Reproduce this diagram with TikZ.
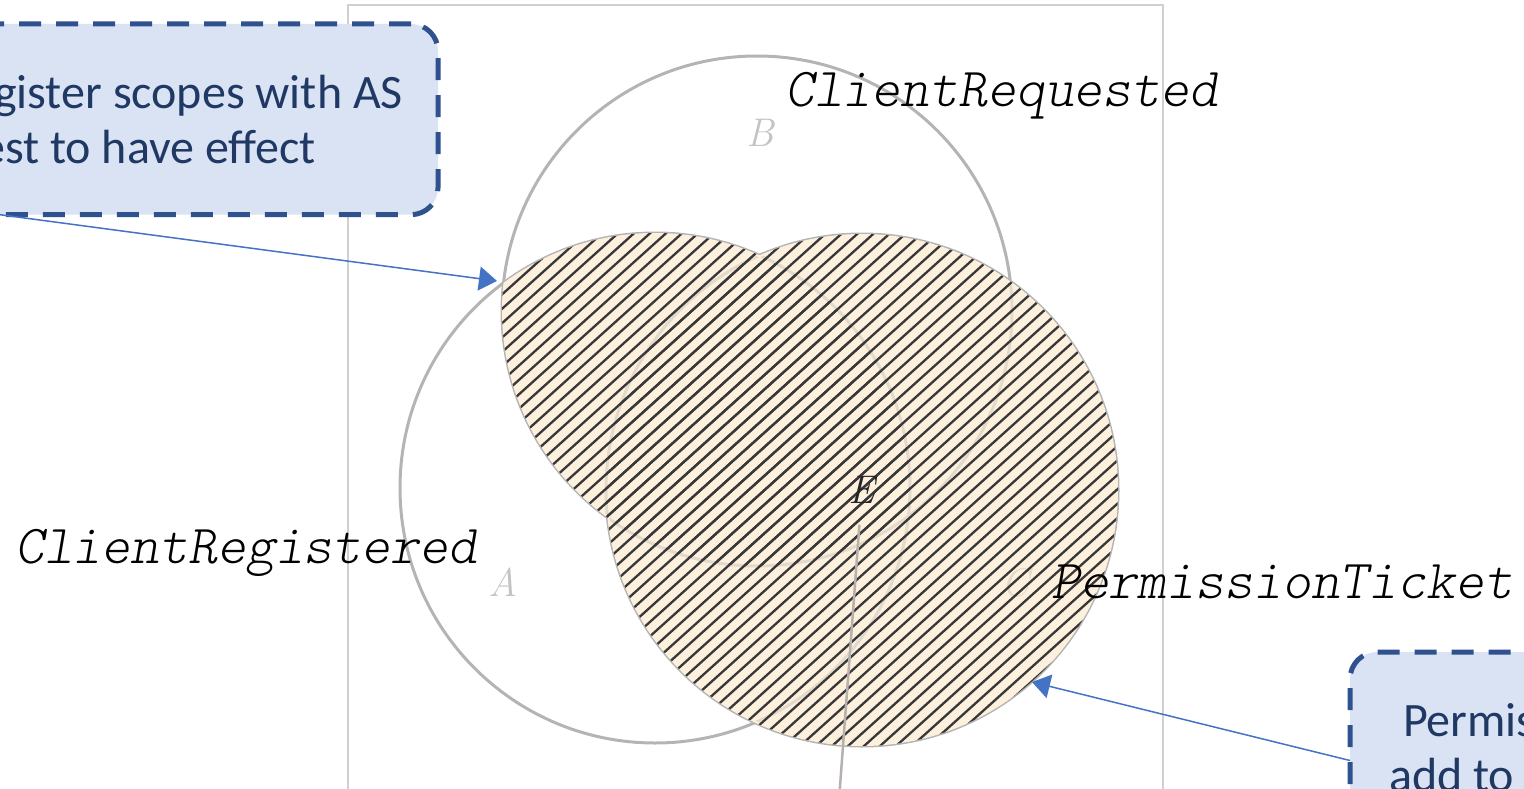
\documentclass[tikz,border=0pt]{standalone}
\usepackage{fontspec}
\usepackage{xcolor}
\usetikzlibrary{arrows.meta, calc}
\newfontfamily\calloutfont{Carlito}
\newfontfamily\codefont{lmmonolt10-oblique.otf}
\definecolor{vnGray}{RGB}{180, 180, 180}
\definecolor{vnFaint}{RGB}{226, 218, 205}
\definecolor{vnFrame}{RGB}{208, 208, 208}
\definecolor{vnTint}{RGB}{253, 241, 222}
\definecolor{vnLetter}{RGB}{196, 196, 196}
\definecolor{vnStem}{RGB}{182, 177, 172}
\definecolor{coBorder}{RGB}{47, 82, 143}
\definecolor{coFill}{RGB}{218, 227, 243}
\definecolor{coText}{RGB}{31, 56, 100}
\definecolor{coArrow}{RGB}{68, 114, 196}
\tikzset{
    setline/.style={
        draw=vnGray,
        line width=3pt
    },
    faintline/.style={
        draw=vnFaint,
        line width=3pt
    },
    hatchline/.style={
        draw=black!78,
        line width=2.3pt
    },
    letter/.style={
        font=\fontsize{40}{48}\selectfont\itshape,
        text=vnLetter,
        inner sep=0pt
    },
    setname/.style={
        font=\codefont\fontsize{55}{66}\selectfont,
        inner sep=0pt,
        anchor=base west
    },
    callout/.style={
        rectangle,
        rounded corners=27pt,
        draw=coBorder,
        line width=5pt,
        dash pattern=on 22pt off 15pt,
        fill=coFill,
        text=coText,
        font=\calloutfont\fontsize{48}{55}\selectfont,
        align=left,
        outer sep=0pt
    },
    pointer/.style={
        draw=coArrow,
        line width=1.5pt,
        -{Triangle[length=18pt, width=24pt]}
    },
    stem/.style={
        draw=vnStem,
        line width=2.5pt
    }
}
\newcommand{\hatchlines}{%
  \foreach \hx in {-220,-204,...,1140}
    \draw[hatchline] (\hx,800) -- +(667,-600);
}
\newcommand{\circleset}[1]{%
  \draw[#1] (A) circle[radius=255pt];
  \draw[#1] (B) circle[radius=255pt];
  \draw[#1] (C) circle[radius=256pt];
}

\begin{document}
\begin{tikzpicture}[x=1pt, y=-1pt]
  \useasboundingbox (0,0) rectangle (1524,789);
  \clip (0,0) rectangle (1524,789);

  % Frame
  \draw[vnFrame, line width=1.2pt] (348,5) rectangle (1163,820);

  % Sets
  \coordinate (A) at (655,488);
  \coordinate (B) at (757,311);
  \coordinate (C) at (862,490);
  \circleset{setline}

  % Shaded part: C, and A with B
  \begin{scope}
    \clip (C) circle[radius=256pt];
    \fill[vnTint] (300,0) rectangle (1200,800);
  \end{scope}
  \begin{scope}
    \clip (A) circle[radius=255pt];
    \clip (B) circle[radius=255pt];
    \fill[vnTint] (300,0) rectangle (1200,800);
  \end{scope}
  \begin{scope}
    \clip (C) circle[radius=254pt];
    \circleset{faintline}
  \end{scope}
  \begin{scope}
    \clip (A) circle[radius=253pt];
    \clip (B) circle[radius=253pt];
    \circleset{faintline}
  \end{scope}
  \node[letter, text=vnFaint] (labC) at (1015,583) {C};
  \begin{scope}
    \clip (C) circle[radius=256pt];
    \hatchlines
  \end{scope}
  \begin{scope}
    \clip (A) circle[radius=255pt];
    \clip (B) circle[radius=255pt];
    \hatchlines
  \end{scope}

  % Letters
  \node[letter] (labA) at (503,582) {A};
  \node[letter] (labB) at (760,133) {B};
  \node[letter, text=black!85] (E) at (862,490) {E};
  \coordinate (stemEnd) at (839,800);
  \draw[stem, shorten <=21pt] (E) -- (stemEnd);

  % Set names
  \node[setname] (reqName) at (785,107) {ClientRequested};
  \node[setname] (regName) at (15,563) {ClientRegistered};
  \node[setname] (ticketName) at (1051,598) {PermissionTicket};

  % Callouts
  \node[callout, anchor=north east, inner xsep=35pt, inner ysep=51pt] (regbox) at (438,24)
    {gister scopes with AS\\\hspace*{-13pt}est to have effect};
  \node[callout, anchor=north west, inner xsep=39pt, inner ysep=51pt] (permbox) at (1350,652)
    {\hspace*{14pt}Permis\\add to};

  \coordinate (regTip) at (497,281);
  \coordinate (permTip) at (1032,682);
  \draw[pointer] ($(regbox.south west)!0.085!(regbox.south east)$) -- (regTip);
  \draw[pointer] ($(permbox.north west)!0.57!(permbox.south west)$) -- (permTip);
\end{tikzpicture}
\end{document}
